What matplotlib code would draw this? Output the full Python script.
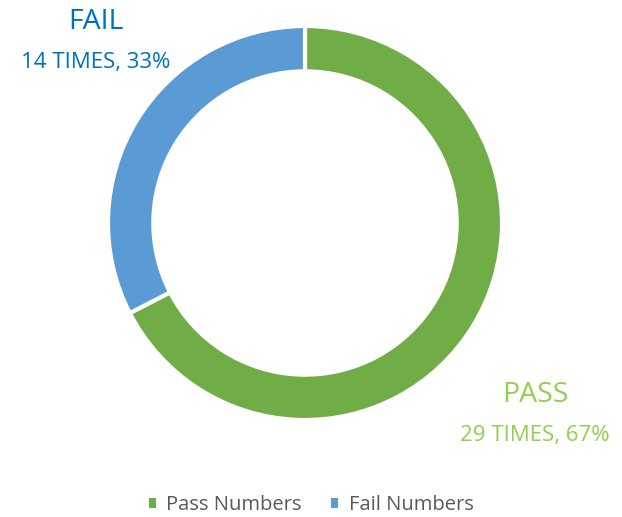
import matplotlib
matplotlib.use("Agg")
from matplotlib import pyplot as plt
from matplotlib.patches import Patch

plt.rcParams['font.family'] = ['Open Sans', 'DejaVu Sans']

# data
labels = ["Pass Numbers", "Fail Numbers"]
counts = [29, 14]
colors = ["#70AD47", "#5B9BD5"]
label_colors = ["#92D050", "#0070C0"]
titles = ["PASS", "FAIL"]

W, H = 622, 517
fig = plt.figure(figsize=(W / 100, H / 100), dpi=100)

# put the ring centre at (305, 223) px, radius 197 px
cx, cy, r = 305, 223, 197
ax = fig.add_axes([(cx - r) / W, (H - cy - r) / H, 2 * r / W, 2 * r / H])

ax.pie(counts, colors=colors, startangle=90, counterclock=False,
       radius=1.0, wedgeprops=dict(width=0.23, edgecolor="white", linewidth=3))
ax.set_xlim(-1, 1)
ax.set_ylim(-1, 1)
ax.set_aspect("equal")
ax.axis("off")

total = sum(counts)
pcts = [round(c / total * 100) for c in counts]

# data labels, positioned like the original
label_pos = {"PASS": (535, 395, 436), "FAIL": (96, 22, 63)}
for t, c, p, col in zip(titles, counts, pcts, label_colors):
    x, y1, y2 = label_pos[t]
    fig.text(x / W, 1 - y1 / H, t, color=col, fontsize=20.5, ha="center", va="center")
    fig.text(x / W, 1 - y2 / H, f"{c} TIMES, {p}%", color=col, fontsize=16,
             ha="center", va="center")

handles = [Patch(facecolor=c, edgecolor="none") for c in colors]
fig.legend(handles, labels, loc="center", bbox_to_anchor=(311 / W, 1 - 505 / H),
           ncol=2, frameon=False, fontsize=14.5, labelcolor="#595959",
           handlelength=0.35, handleheight=0.35, handletextpad=0.5, columnspacing=1.5)

fig.savefig("out.png", dpi=100)
